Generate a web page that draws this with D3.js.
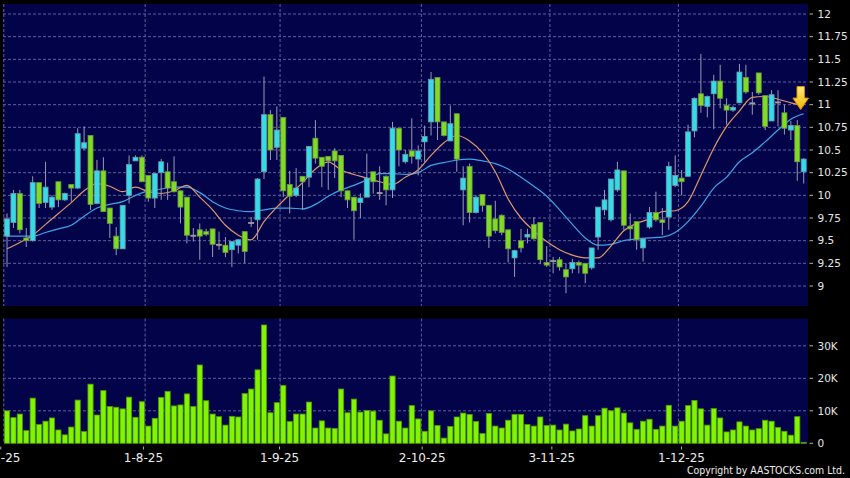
<!DOCTYPE html>
<html>
<head>
<meta charset="utf-8">
<script src="https://cdnjs.cloudflare.com/ajax/libs/d3/7.8.5/d3.min.js"></script>
<style>
  body { margin: 0; background: #000; }
  svg { display: block; }
</style>
</head>
<body>
<div id="chart"></div>
<script>
// daily bars, 3-7-25 .. end of Dec 25
var opens = [9.55,9.70,10.02,9.53,9.50,10.14,9.92,9.87,10.15,9.95,10.12,10.08,10.52,10.66,9.91,10.27,9.86,9.55,9.41,10.00,
  10.38,10.42,10.22,9.97,10.25,10.26,10.15,10.05,9.98,9.56,9.62,9.60,9.63,9.46,9.45,9.40,9.45,9.60,9.70,9.73,
  10.26,10.89,10.53,10.86,10.12,10.00,10.21,10.20,10.63,10.42,10.43,10.49,10.44,10.05,9.98,9.92,9.98,10.26,10.03,10.21,
  10.06,10.74,10.37,10.49,10.40,10.59,10.81,11.30,10.81,10.60,10.90,10.06,10.32,9.81,10.01,9.89,9.74,9.78,9.62,9.31,
  9.50,9.54,9.68,9.70,9.26,9.28,9.29,9.18,9.19,9.26,9.25,9.20,9.54,9.84,9.73,10.06,10.27,9.66,9.71,9.42,
  9.65,9.81,9.73,9.76,10.11,10.19,10.21,10.71,11.12,10.98,11.12,11.26,10.99,10.94,11.02,11.30,11.02,11.35,11.10,10.82,
  11.03,10.91,10.72,10.77,10.26];
var highs = [9.80,10.06,10.06,9.64,10.21,10.14,10.37,10.00,10.15,10.03,10.12,10.74,10.76,10.66,10.39,10.42,9.86,9.65,9.89,10.44,
  10.44,10.44,10.22,10.24,10.40,10.36,10.43,10.05,9.98,9.64,9.69,9.63,9.63,9.60,9.54,9.49,9.52,9.60,9.76,10.19,
  11.31,10.94,10.98,10.86,10.27,10.30,10.21,10.54,10.83,10.42,10.43,10.52,10.44,10.05,9.98,10.02,10.46,10.26,10.32,10.22,
  10.81,10.74,10.50,10.85,10.55,10.77,11.36,11.30,10.81,10.99,10.90,10.32,10.35,10.00,10.01,9.89,9.94,9.79,9.62,9.40,
  9.63,9.63,9.76,9.70,9.44,9.32,9.32,9.25,9.30,9.28,9.25,9.42,9.87,10.06,10.18,10.37,10.27,9.80,9.71,9.52,
  9.87,10.04,9.86,10.37,10.44,10.28,10.78,11.08,11.56,11.10,11.33,11.44,11.07,10.99,11.45,11.44,11.14,11.35,11.10,11.16,
  11.16,11.00,10.82,10.83,10.41];
var lows = [9.21,9.64,9.58,9.43,9.49,9.86,9.86,9.84,9.87,9.94,9.93,10.07,10.50,9.84,9.90,9.82,9.53,9.34,9.41,9.91,
  10.38,10.15,9.93,9.86,9.95,9.95,10.03,9.69,9.47,9.49,9.29,9.55,9.32,9.40,9.32,9.21,9.36,9.25,9.65,9.51,
  10.18,10.39,10.39,9.98,9.80,9.98,9.84,10.09,10.35,10.09,10.06,10.19,9.98,9.86,9.51,9.75,9.98,10.02,9.95,9.89,
  9.97,10.32,10.35,10.35,10.22,10.37,10.66,10.61,10.65,10.60,10.26,9.67,9.70,9.80,9.82,9.42,9.58,9.56,9.26,9.10,
  9.37,9.47,9.51,9.24,9.21,9.14,9.17,8.92,9.14,9.14,9.03,9.18,9.40,9.78,9.71,10.04,9.62,9.51,9.40,9.27,
  9.63,9.71,9.56,9.62,10.09,10.00,10.21,10.64,10.91,10.86,10.73,10.96,10.78,10.92,11.02,11.12,10.89,11.11,10.72,10.82,
  10.76,10.67,10.61,10.16,10.13];
var closes = [9.74,10.02,9.62,9.50,10.14,9.91,10.09,9.98,9.95,10.02,10.08,10.68,10.58,9.90,10.27,9.82,9.69,9.41,9.89,10.34,
  10.42,10.15,9.97,10.24,10.37,10.08,10.04,9.87,9.56,9.56,9.55,9.57,9.46,9.46,9.37,9.49,9.51,9.38,9.70,10.18,
  10.89,10.50,10.72,10.05,9.99,10.08,10.15,10.54,10.41,10.32,10.38,10.38,10.05,9.95,9.83,9.97,10.19,10.15,10.03,10.06,
  10.74,10.50,10.45,10.43,10.49,10.65,11.28,10.81,10.66,10.79,10.40,10.19,9.81,9.98,9.89,9.55,9.61,9.59,9.41,9.39,
  9.42,9.57,9.52,9.29,9.23,9.28,9.21,9.10,9.26,9.23,9.14,9.42,9.87,9.95,10.18,10.28,9.67,9.63,9.51,9.52,
  9.81,9.73,9.70,10.32,10.22,10.15,10.70,11.07,10.99,11.09,11.26,11.07,10.94,10.97,11.36,11.14,11.02,11.13,10.76,11.11,
  11.03,10.74,10.77,10.37,10.40];
// volume in thousands
var volumes = [10.0,7.9,9.0,3.9,13.9,5.8,6.8,7.8,4.1,2.6,5.0,13.3,3.6,18.2,8.7,16.2,11.3,11.1,10.6,14.2,
  8.0,12.8,5.3,7.7,14.1,16.0,11.5,11.8,15.2,11.3,24.1,13.1,9.0,8.2,5.6,8.3,8.1,15.3,16.7,22.6,
  36.4,9.4,12.5,17.8,6.7,9.0,9.0,12.7,4.7,6.9,4.7,4.6,16.7,9.4,13.6,9.6,10.1,9.9,7.1,2.9,
  20.7,6.8,4.7,11.6,7.5,3.7,10.0,5.5,1.6,5.2,8.1,9.3,8.9,6.7,3.0,9.2,5.3,4.7,7.1,8.9,
  8.9,5.8,5.3,8.1,5.5,5.6,4.1,5.9,3.8,4.4,8.5,5.3,8.5,10.8,10.0,10.9,9.3,6.3,4.3,6.8,
  7.4,4.3,5.3,11.7,5.3,6.8,11.6,13.2,10.6,5.6,10.7,7.8,3.5,4.1,6.6,5.3,4.1,4.5,7.1,6.8,
  4.9,3.7,2.5,8.2,0.3];

// moving averages read every second bar
var maIdx = d3.range(0, 125, 2);
var ma10 = [9.41,9.48,9.56,9.68,9.80,9.92,10.05,10.13,10.10,10.04,10.09,10.04,10.02,10.05,10.11,9.98,
  9.84,9.67,9.56,9.51,9.71,9.87,10.01,10.14,10.29,10.37,10.28,10.23,10.19,10.15,10.12,10.20,
  10.28,10.44,10.58,10.66,10.60,10.47,10.26,9.96,9.75,9.61,9.49,9.40,9.34,9.31,9.31,9.44,
  9.61,9.69,9.74,9.82,9.83,9.93,10.22,10.52,10.76,10.93,11.08,11.09,11.06,11.02,10.99];
var ma20 = [9.55,9.55,9.55,9.59,9.63,9.67,9.77,9.86,9.90,9.93,10.00,10.05,10.07,10.09,10.09,10.03,
  9.93,9.86,9.83,9.82,9.84,9.86,9.86,9.85,9.90,9.99,10.06,10.11,10.17,10.24,10.24,10.23,
  10.25,10.33,10.36,10.39,10.40,10.38,10.35,10.29,10.20,10.10,9.99,9.84,9.68,9.53,9.45,9.46,
  9.50,9.52,9.53,9.54,9.59,9.71,9.88,10.08,10.20,10.37,10.47,10.59,10.72,10.84,10.90];

var dateLabels = ["2-7-25", "1-8-25", "1-9-25", "2-10-25", "3-11-25", "1-12-25"];
var dateIdx = [-1, 21, 42, 64, 84, 104];
var priceTicks = d3.range(9, 12.01, 0.25);
var volTicks = [0, 10, 20, 30];

var width = 850, height = 478;
var plotL = 3, plotR = 808;
var pTop = 4, pBot = 306, vTop = 318.5, vBot = 443.5;
var gridColor = "#5e5e9c";
var bg = "#03034a";

var svg = d3.select("#chart")
    .append("svg")
    .attr("width", width)
    .attr("height", height)
    .style("font-family", "'DejaVu Sans', sans-serif");

svg.append("rect").attr("width", width).attr("height", height).attr("fill", "#000");

var x = d3.scaleLinear().domain([0, 124]).range([7, 803.7]);
var xLab = d3.scaleLinear().domain([-1, 104]).range([0.8, 681.5]);
var yP = d3.scaleLinear().domain([9, 12]).range([286, 14]);
var yV = d3.scaleLinear().domain([0, 30]).range([443.3, 345.8]);

// panels
svg.append("rect").attr("x", plotL).attr("y", pTop).attr("width", plotR - plotL).attr("height", pBot - pTop).attr("fill", bg);
svg.append("rect").attr("x", plotL).attr("y", vTop).attr("width", plotR - plotL).attr("height", vBot - vTop).attr("fill", bg);

var defs = svg.append("defs");
defs.append("clipPath").attr("id", "clipP")
    .append("rect").attr("x", plotL).attr("y", pTop).attr("width", plotR - plotL).attr("height", pBot - pTop);
var grad = defs.append("linearGradient").attr("id", "arrowGrad")
    .attr("x1", 0).attr("y1", 0).attr("x2", 0).attr("y2", 1);
grad.append("stop").attr("offset", "0%").attr("stop-color", "#ffec7a");
grad.append("stop").attr("offset", "100%").attr("stop-color", "#f2b400");

// grid lines
svg.append("g").selectAll("line")
    .data(priceTicks)
    .enter().append("line")
    .attr("x1", plotL).attr("x2", plotR)
    .attr("y1", function(d) { return yP(d); })
    .attr("y2", function(d) { return yP(d); })
    .attr("stroke", gridColor).attr("stroke-dasharray", "3,2");

svg.append("g").selectAll("line")
    .data(volTicks.slice(1))
    .enter().append("line")
    .attr("x1", plotL).attr("x2", plotR)
    .attr("y1", function(d) { return yV(d); })
    .attr("y2", function(d) { return yV(d); })
    .attr("stroke", gridColor).attr("stroke-dasharray", "3,2");

[[pTop, pBot], [vTop, vBot]].forEach(function(p) {
    svg.append("g").selectAll("line")
        .data(dateIdx)
        .enter().append("line")
        .attr("x1", function(d) { return x(d + 0.5); })
        .attr("x2", function(d) { return x(d + 0.5); })
        .attr("y1", p[0]).attr("y2", p[1])
        .attr("stroke", gridColor).attr("stroke-dasharray", "3,2");
});

// moving averages
var line = d3.line()
    .x(function(d, i) { return x(maIdx[i]); })
    .y(function(d) { return yP(d); })
    .curve(d3.curveMonotoneX);

var gp = svg.append("g").attr("clip-path", "url(#clipP)");

gp.append("path").datum(ma20).attr("d", line)
    .attr("fill", "none").attr("stroke", "#3ea4e6").attr("stroke-width", 1.2);
gp.append("path").datum(ma10).attr("d", line)
    .attr("fill", "none").attr("stroke", "#e0966a").attr("stroke-width", 1.2);

// candles
var candles = gp.append("g").selectAll("g")
    .data(opens)
    .enter().append("g");

candles.append("line")
    .attr("x1", function(d, i) { return x(i); })
    .attr("x2", function(d, i) { return x(i); })
    .attr("y1", function(d, i) { return yP(highs[i]); })
    .attr("y2", function(d, i) { return yP(lows[i]); })
    .attr("stroke", "#9a9ab4").attr("stroke-width", 1);

candles.append("rect")
    .attr("x", function(d, i) { return x(i) - 2.5; })
    .attr("width", 5)
    .attr("y", function(d, i) { return yP(Math.max(d, closes[i])); })
    .attr("height", function(d, i) { return Math.max(1, Math.abs(yP(d) - yP(closes[i]))); })
    .attr("fill", function(d, i) {
        if (closes[i] > d) return "#34dcea";
        if (closes[i] < d) return "#80dc22";
        return "#a0a0a0";
    })
    .attr("stroke", function(d, i) {
        if (closes[i] > d) return "#6a9aa8";
        if (closes[i] < d) return "#6a9444";
        return "#a0a0a0";
    })
    .attr("stroke-width", 0.8);

// arrow on last average
var tx = x(124) - 3, ty = yP(ma10[ma10.length - 1]) + 4;
svg.append("path")
    .attr("d", "M" + (tx - 3.7) + "," + (ty - 23) + "L" + (tx + 3.7) + "," + (ty - 23) +
        "L" + (tx + 3.7) + "," + (ty - 11.5) + "L" + (tx + 7.8) + "," + (ty - 11.5) +
        "L" + tx + "," + ty + "L" + (tx - 7.8) + "," + (ty - 11.5) +
        "L" + (tx - 3.7) + "," + (ty - 11.5) + "Z")
    .attr("fill", "url(#arrowGrad)").attr("stroke", "#dc9200").attr("stroke-width", 1);

// volume bars
svg.append("g").selectAll("rect")
    .data(volumes)
    .enter().append("rect")
    .attr("x", function(d, i) { return x(i) - 2.6; })
    .attr("width", 5.2)
    .attr("y", function(d) { return yV(d); })
    .attr("height", function(d) { return yV(0) - yV(d); })
    .attr("fill", "#80f400")
    .attr("stroke", "#4f9a08")
    .attr("stroke-width", 0.8);

// right axes
function rightAxis(ticks, y, fmt) {
    var g = svg.append("g");
    g.selectAll("line").data(ticks).enter().append("line")
        .attr("x1", 809.5).attr("x2", 813)
        .attr("y1", function(d) { return y(d); })
        .attr("y2", function(d) { return y(d); })
        .attr("stroke", "#b0b0b0");
    g.selectAll("text").data(ticks).enter().append("text")
        .attr("x", 817.5)
        .attr("y", function(d) { return y(d); })
        .attr("dy", "0.36em")
        .attr("fill", "#e6e6e6")
        .style("font-size", "10.5px")
        .text(fmt);
}
rightAxis(priceTicks, yP, function(d) { return d3.format("~g")(d); });
rightAxis(volTicks, yV, function(d) { return d === 0 ? "0" : d + "K"; });

// date axis
svg.append("g").selectAll("line")
    .data(dateIdx)
    .enter().append("line")
    .attr("x1", function(d) { return xLab(d); })
    .attr("x2", function(d) { return xLab(d); })
    .attr("y1", 446.5).attr("y2", 449.5)
    .attr("stroke", "#b0b0b0");

svg.append("g").selectAll("text")
    .data(dateLabels)
    .enter().append("text")
    .attr("x", function(d, i) { return xLab(dateIdx[i]); })
    .attr("y", 462)
    .attr("text-anchor", "middle")
    .attr("fill", "#ececec")
    .style("font-size", "12px")
    .text(function(d) { return d; });

svg.append("text")
    .attr("x", 845)
    .attr("y", 474)
    .attr("text-anchor", "end")
    .attr("fill", "#ececec")
    .attr("textLength", 158)
    .attr("lengthAdjust", "spacingAndGlyphs")
    .style("font-size", "10.5px")
    .style("font-family", "'DejaVu Sans Condensed', 'DejaVu Sans', sans-serif")
    .text("Copyright by AASTOCKS.com Ltd.");
</script>
</body>
</html>
